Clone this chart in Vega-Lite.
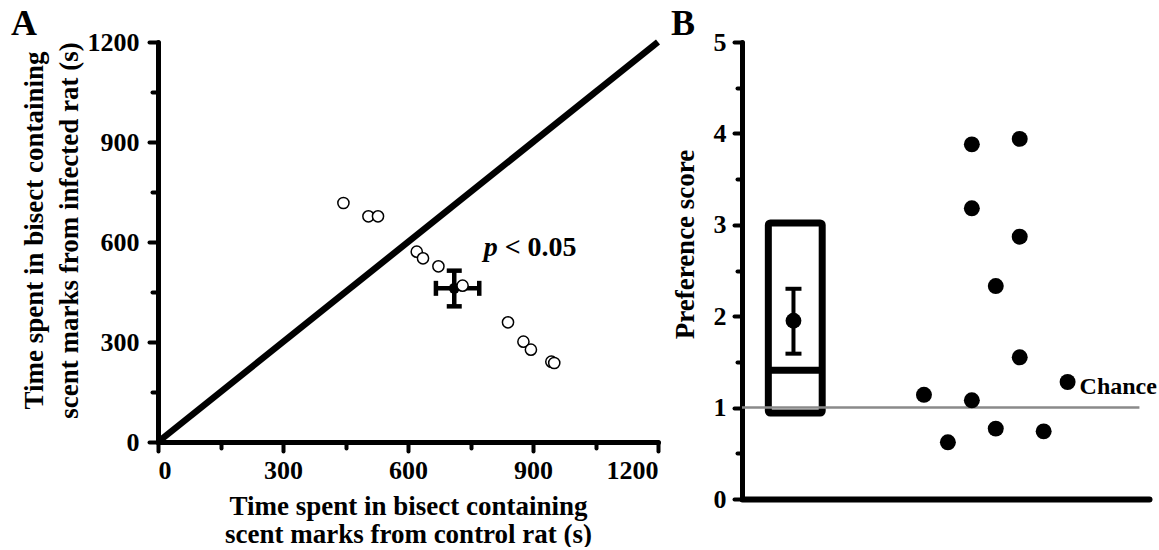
{
  "$schema": "https://vega.github.io/schema/vega-lite/v6.json",
  "padding": {"left": 11, "top": 6, "right": 0, "bottom": 0},
  "background": "white",
  "bounds": "flush",
  "spacing": 84,
  "config": {
    "font": "Liberation Serif",
    "view": {"stroke": null},
    "axis": {
      "domainColor": "black", "domainWidth": 5, "domainCap": "round",
      "tickColor": "black", "tickWidth": 4, "tickCap": "round",
      "labelColor": "black", "labelFont": "Liberation Serif", "labelFontWeight": "bold", "labelFontSize": 26,
      "titleColor": "black", "titleFont": "Liberation Serif", "titleFontWeight": "bold", "titleFontSize": 27, "titleLineHeight": 28,
      "grid": false
    },
    "title": {"font": "Liberation Serif", "fontWeight": "bold", "fontSize": 36, "color": "black"}
  },
  "datasets": {
    "aPoints": [
      {"control": 445, "infected": 717},
      {"control": 505, "infected": 677},
      {"control": 528, "infected": 677},
      {"control": 621, "infected": 571},
      {"control": 636, "infected": 551},
      {"control": 673, "infected": 527},
      {"control": 731, "infected": 469},
      {"control": 840, "infected": 359},
      {"control": 877, "infected": 301},
      {"control": 895, "infected": 277},
      {"control": 944, "infected": 241},
      {"control": 951, "infected": 237}
    ],
    "aDiag": [{"control": 0, "infected": 0}, {"control": 1200, "infected": 1200}],
    "aMean": [{"control": 711, "infected": 461, "cLo": 667, "cHi": 771, "iLo": 407, "iHi": 514}],
    "aCapsX": [{"control": 667, "infected": 461}, {"control": 771, "infected": 461}],
    "aCapsY": [{"control": 711, "infected": 407}, {"control": 711, "infected": 514}],
    "bPoints": [
      {"pos": 9.6, "score": 3.88},
      {"pos": 11.6, "score": 3.94},
      {"pos": 9.6, "score": 3.18},
      {"pos": 11.6, "score": 2.87},
      {"pos": 10.6, "score": 2.33},
      {"pos": 11.6, "score": 1.55},
      {"pos": 13.6, "score": 1.28},
      {"pos": 7.6, "score": 1.14},
      {"pos": 9.6, "score": 1.08},
      {"pos": 8.6, "score": 0.62},
      {"pos": 10.6, "score": 0.77},
      {"pos": 12.6, "score": 0.74}
    ],
    "bBox": [{"left": 1.1, "right": 3.35, "q1": 0.94, "q3": 3.02, "median": 1.41}],
    "bMean": [{"pos": 2.15, "score": 1.95, "lo": 1.59, "hi": 2.3}],
    "bCaps": [{"pos": 2.15, "score": 1.59}, {"pos": 2.15, "score": 2.3}],
    "bChance": [{"from": 0, "to": 16.6, "score": 1, "labelPos": 14.1, "labelScore": 1.15, "label": "Chance"}]
  },
  "hconcat": [
    {
      "width": 500,
      "height": 400,
      "title": {"text": "A", "anchor": "start", "frame": "bounds", "dx": -9, "offset": -14},
      "encoding": {
        "x": {"field": "control", "type": "quantitative",
          "scale": {"domain": [0, 1200], "nice": false},
          "axis": {
            "values": [0, 150, 300, 450, 600, 750, 900, 1050, 1200],
            "labelExpr": "datum.value % 300 === 0 ? format(datum.value, 'd') : ''",
            "tickSize": {"condition": {"test": "datum.value % 300 === 0", "value": 9}, "value": 6},
            "labelPadding": 6,
            "title": ["Time spent in bisect containing", "scent marks from control rat (s)"],
            "titlePadding": 10
          }},
        "y": {"field": "infected", "type": "quantitative",
          "scale": {"domain": [0, 1200], "nice": false},
          "axis": {
            "values": [0, 150, 300, 450, 600, 750, 900, 1050, 1200],
            "labelExpr": "datum.value % 300 === 0 ? format(datum.value, 'd') : ''",
            "tickSize": {"condition": {"test": "datum.value % 300 === 0", "value": 9}, "value": 6},
            "labelPadding": 10,
            "title": ["Time spent in bisect containing", "scent marks from infected rat (s)"],
            "titleLineHeight": 35,
            "titlePadding": 4,
            "titleY": 188
          }}
      },
      "layer": [
        {"data": {"name": "aDiag"}, "mark": {"type": "line", "color": "black", "strokeWidth": 6.5, "strokeCap": "butt"}},
        {"data": {"name": "aMean"}, "mark": {"type": "rule", "color": "black", "strokeWidth": 4.5},
          "encoding": {"x": {"field": "cLo", "type": "quantitative"}, "x2": {"field": "cHi"}}},
        {"data": {"name": "aMean"}, "mark": {"type": "rule", "color": "black", "strokeWidth": 4.5},
          "encoding": {"y": {"field": "iLo", "type": "quantitative"}, "y2": {"field": "iHi"}}},
        {"data": {"name": "aCapsX"}, "mark": {"type": "tick", "orient": "vertical", "color": "black", "size": 15, "thickness": 4.5, "opacity": 1}},
        {"data": {"name": "aCapsY"}, "mark": {"type": "tick", "orient": "horizontal", "color": "black", "size": 15, "thickness": 4.5, "opacity": 1}},
        {"data": {"name": "aMean"}, "mark": {"type": "point", "shape": "circle", "filled": true, "color": "black", "size": 120, "opacity": 1}},
        {"data": {"name": "aPoints"}, "mark": {"type": "point", "shape": "circle", "filled": false, "fill": "white", "fillOpacity": 1, "stroke": "black", "strokeWidth": 1.5, "size": 125, "opacity": 1}},
        {"data": {"values": [{"control": 782, "infected": 559, "t": "p"}]},
          "mark": {"type": "text", "align": "left", "baseline": "alphabetic", "fontSize": 28, "fontStyle": "italic", "fontWeight": "bold", "color": "black"},
          "encoding": {"text": {"field": "t"}}},
        {"data": {"values": [{"control": 832, "infected": 559, "t": "< 0.05"}]},
          "mark": {"type": "text", "align": "left", "baseline": "alphabetic", "fontSize": 28, "fontWeight": "bold", "color": "black"},
          "encoding": {"text": {"field": "t"}}}
      ]
    },
    {
      "width": 407,
      "height": 457,
      "title": {"text": "B", "anchor": "start", "frame": "bounds", "dx": 0, "offset": -14},
      "encoding": {
        "x": {"field": "pos", "type": "quantitative",
          "scale": {"domain": [0, 17], "nice": false},
          "axis": {"ticks": false, "labels": false, "title": null, "domainWidth": 6}},
        "y": {"field": "score", "type": "quantitative",
          "scale": {"domain": [0, 5], "nice": false},
          "axis": {
            "values": [0, 0.5, 1, 1.5, 2, 2.5, 3, 3.5, 4, 4.5, 5],
            "labelExpr": "datum.value % 1 === 0 ? format(datum.value, 'd') : ''",
            "tickSize": {"condition": {"test": "datum.value % 1 === 0", "value": 8}, "value": 5},
            "labelPadding": 8,
            "title": "Preference score",
            "titlePadding": 14,
            "titleY": 202
          }}
      },
      "layer": [
        {"data": {"name": "bBox"}, "mark": {"type": "rect", "fill": null, "fillOpacity": 0, "stroke": "black", "strokeWidth": 7, "cornerRadius": 2},
          "encoding": {"x": {"field": "left", "type": "quantitative"}, "x2": {"field": "right"}, "y": {"field": "q1", "type": "quantitative"}, "y2": {"field": "q3"}}},
        {"data": {"name": "bBox"}, "mark": {"type": "rule", "color": "black", "strokeWidth": 7},
          "encoding": {"x": {"field": "left", "type": "quantitative"}, "x2": {"field": "right"}, "y": {"field": "median", "type": "quantitative"}}},
        {"data": {"name": "bChance"}, "mark": {"type": "rule", "color": "#8a8a8a", "strokeWidth": 2.5},
          "encoding": {"x": {"field": "from", "type": "quantitative"}, "x2": {"field": "to"}}},
        {"data": {"name": "bChance"}, "mark": {"type": "text", "align": "left", "baseline": "alphabetic", "fontSize": 24, "fontWeight": "bold", "color": "black"},
          "encoding": {"x": {"field": "labelPos", "type": "quantitative"}, "y": {"field": "labelScore", "type": "quantitative"}, "text": {"field": "label"}}},
        {"data": {"name": "bMean"}, "mark": {"type": "rule", "color": "black", "strokeWidth": 4},
          "encoding": {"y": {"field": "lo", "type": "quantitative"}, "y2": {"field": "hi"}}},
        {"data": {"name": "bCaps"}, "mark": {"type": "tick", "orient": "horizontal", "color": "black", "size": 16, "thickness": 4, "opacity": 1}},
        {"data": {"name": "bMean"}, "mark": {"type": "point", "shape": "circle", "filled": true, "color": "black", "size": 250, "opacity": 1}},
        {"data": {"name": "bPoints"}, "mark": {"type": "point", "shape": "circle", "filled": true, "color": "black", "size": 255, "opacity": 1}}
      ]
    }
  ]
}
